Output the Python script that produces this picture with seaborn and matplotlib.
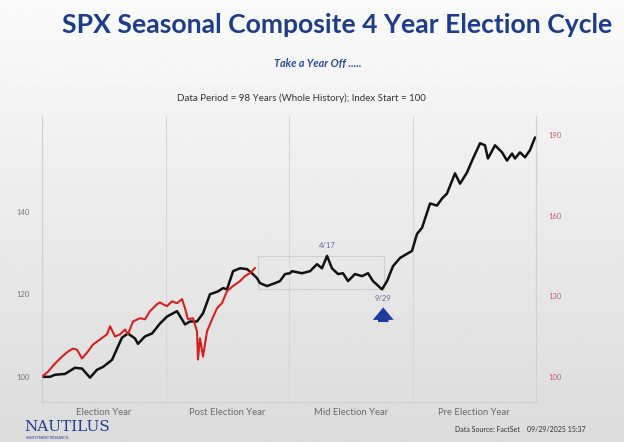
"""
SPX seasonal composite, 4 year election cycle vs current cycle
"""
import matplotlib
import matplotlib.pyplot as plt
import numpy as np
import pandas as pd
import seaborn as sns
from matplotlib.patches import Rectangle

matplotlib.use('Agg')
sns.set_style('white')
plt.rcParams['font.family'] = ['Lato', 'DejaVu Sans']

# composite (black, left axis) - years into the 4 year cycle vs index
cycle_year_composite = [0.00, 0.065, 0.105, 0.186, 0.267, 0.324, 0.389, 0.445, 0.494, 0.567,
                        0.607, 0.648, 0.696, 0.753, 0.777, 0.834, 0.891, 0.955, 1.012, 1.093,
                        1.158, 1.198, 1.255, 1.304, 1.360, 1.425, 1.466, 1.498, 1.547, 1.603,
                        1.660, 1.700, 1.741, 1.765, 1.822, 1.887, 1.927, 1.968, 2.008, 2.024,
                        2.105, 2.170, 2.227, 2.267, 2.308, 2.348, 2.397, 2.437, 2.478, 2.534,
                        2.591, 2.640, 2.680, 2.753, 2.794, 2.842, 2.899, 2.955, 2.996, 3.036,
                        3.077, 3.142, 3.198, 3.239, 3.279, 3.344, 3.385, 3.441, 3.490, 3.547,
                        3.587, 3.611, 3.668, 3.725, 3.765, 3.806, 3.830, 3.870, 3.911, 3.951,
                        3.992]
composite_index = [100.0, 100.0, 100.5, 100.7, 102.2, 102.0, 99.8, 101.7, 102.4, 104.1,
                   106.8, 109.5, 110.5, 109.3, 108.0, 109.8, 110.5, 112.9, 114.6, 115.9,
                   112.7, 113.4, 113.4, 115.4, 120.0, 120.7, 121.5, 121.2, 125.6, 126.3,
                   126.1, 125.1, 123.9, 122.7, 122.0, 122.7, 123.2, 124.9, 125.1, 125.6,
                   125.1, 125.6, 127.3, 126.3, 129.3, 126.3, 124.9, 125.1, 123.2, 124.9,
                   124.4, 125.1, 123.2, 121.2, 123.2, 126.8, 128.8, 129.8, 130.5, 134.6,
                   136.1, 142.0, 141.5, 143.2, 144.4, 149.3, 146.8, 149.5, 152.9, 156.6,
                   156.1, 152.9, 156.1, 154.4, 152.4, 154.1, 152.9, 154.4, 153.2, 154.9,
                   158.0]

# current cycle (red, right axis)
cycle_year_current = [0.00, 0.049, 0.105, 0.162, 0.211, 0.251, 0.283, 0.324, 0.372, 0.413,
                      0.470, 0.526, 0.551, 0.591, 0.632, 0.672, 0.696, 0.737, 0.794, 0.834,
                      0.874, 0.931, 0.955, 0.980, 1.012, 1.053, 1.093, 1.134, 1.158, 1.182,
                      1.223, 1.255, 1.263, 1.279, 1.304, 1.336, 1.377, 1.417, 1.457, 1.498,
                      1.547, 1.603, 1.644, 1.684, 1.725]
current_index = [100.0, 101.9, 104.9, 107.5, 109.4, 110.5, 110.1, 106.8, 109.4, 112.0,
                 113.9, 115.8, 118.8, 115.0, 115.8, 117.6, 115.8, 120.6, 121.8, 121.4,
                 124.4, 127.0, 127.7, 127.0, 126.3, 128.1, 127.4, 128.9, 125.5, 121.4,
                 121.8, 116.9, 106.4, 114.3, 107.5, 116.9, 121.4, 125.5, 127.4, 131.9,
                 133.8, 135.6, 137.5, 138.6, 140.5]

year_labels = ['Election Year', 'Post Election Year', 'Mid Election Year', 'Pre Election Year']
left_ticks = [100, 120, 140]
right_ticks = [100, 130, 160, 190]
peak_label, trough_label = '4/17', '9/29'

df_comp = pd.DataFrame({'t': cycle_year_composite, 'idx': composite_index})
df_cur = pd.DataFrame({'t': cycle_year_current, 'idx': current_index})

NAVY = '#1f3b8c'

fig = plt.figure(figsize=(6.24, 4.42), dpi=100)

# photo-like grey backdrop
bg = fig.add_axes([0, 0, 1, 1], zorder=-10)
grad = np.linspace(0.98, 0.86, 256).reshape(-1, 1)
bg.imshow(grad, aspect='auto', cmap='gray', vmin=0, vmax=1, extent=[0, 1, 0, 1])
bg.axis('off')

ax = fig.add_axes([42 / 624, 1 - 402 / 442, (536 - 42) / 624, (402 - 116) / 442])
ax.set_facecolor('none')
ax2 = ax.twinx()

sns.lineplot(data=df_comp, x='t', y='idx', ax=ax, color='#111111', lw=1.8, zorder=3)
sns.lineplot(data=df_cur, x='t', y='idx', ax=ax2, color='#d62020', lw=1.5, zorder=3)

# left axis 100 and right axis 100 sit on the same pixel row
ax.set_ylim(93.9, 163.2)
ax2.set_ylim(90.6, 197.1)
ax.set_xlim(0, 4)

ax.set_yticks(left_ticks)
ax2.set_yticks(right_ticks)
ax.tick_params(axis='y', length=0, labelsize=5.5, labelcolor='#777777', pad=9)
ax2.tick_params(axis='y', length=0, labelsize=5.5, labelcolor='#c0606e', pad=9)
ax.set_xticks([0.5, 1.5, 2.5, 3.5])
ax.set_xticklabels(year_labels)
ax.tick_params(axis='x', length=0, labelsize=6.8, labelcolor='#6a6a6a', pad=4)
for x in [1, 2, 3]:
    ax.axvline(x, color='#d6d6d6', lw=0.8, zorder=1)
for a in (ax, ax2):
    a.set_xlabel('')
    a.set_ylabel('')
    a.spines['top'].set_visible(False)
    for s in ('left', 'right', 'bottom'):
        a.spines[s].set_color('#d0d0d0')
        a.spines[s].set_linewidth(0.8)

# box from end of current cycle to the 9/29 low, spanning the composite's range there
t = np.array(cycle_year_composite)
v = np.array(composite_index)
box_x0 = cycle_year_current[-1] + 0.025
i_trough = int(np.argmin(np.where((t > 2.5) & (t < 2.9), v, np.inf)))
box_x1 = t[i_trough] + 0.02
win = (t >= box_x0) & (t <= box_x1)
ax.add_patch(Rectangle((box_x0, v[win].min()), box_x1 - box_x0, v[win].max() - v[win].min(),
                       fill=False, edgecolor='#cfcfcf', lw=0.8, zorder=2))

i_peak = int(np.argmax(np.where((t > 2.0) & (t < 2.5), v, -np.inf)))
ax.annotate(peak_label, (t[i_peak], v[i_peak]), xytext=(0, 5), textcoords='offset points',
            ha='center', va='bottom', fontsize=5.5, color='#5a6aa0')
ax.annotate(trough_label, (t[i_trough], v[i_trough]), xytext=(1, -4), textcoords='offset points',
            ha='center', va='top', fontsize=5.5, color='#5a6aa0')
ax.annotate('', xy=(t[i_trough] + 0.01, v[i_trough] - 3.7), xytext=(t[i_trough] + 0.01, v[i_trough] - 8.6),
            arrowprops=dict(arrowstyle='simple,head_length=0.9,head_width=1.5,tail_width=0.75',
                            color='#1c3a9c', lw=0))

# titles and footer
fig.text(62 / 624, 1 - 25 / 442, 'SPX Seasonal Composite 4 Year Election Cycle', fontsize=19.1,
         fontweight='bold', color=NAVY, va='center', ha='left')
fig.text(318 / 624, 1 - 64 / 442, 'Take a Year Off .....', fontsize=7.8, fontweight='bold',
         fontstyle='italic', color='#2b4a9a', ha='center', va='center')
fig.text(301 / 624, 1 - 98 / 442, 'Data Period = 98 Years (Whole History); Index Start = 100',
         fontsize=7, color='#333333', ha='center', va='center')
fig.text(24 / 624, 1 - 427 / 442, 'NAUTILUS', fontsize=11, family='DejaVu Serif', color=NAVY,
         ha='left', va='center')
fig.text(26 / 624, 1 - 438 / 442, 'INVESTMENT RESEARCH', fontsize=2.6, color=NAVY, ha='left', va='center')
fig.text(455 / 624, 1 - 430 / 442, 'Data Source: FactSet    09/29/2025 15:37', fontsize=5.0,
         color='#333333', ha='left', va='center')

plt.savefig('out.png', dpi=100)
plt.close()
